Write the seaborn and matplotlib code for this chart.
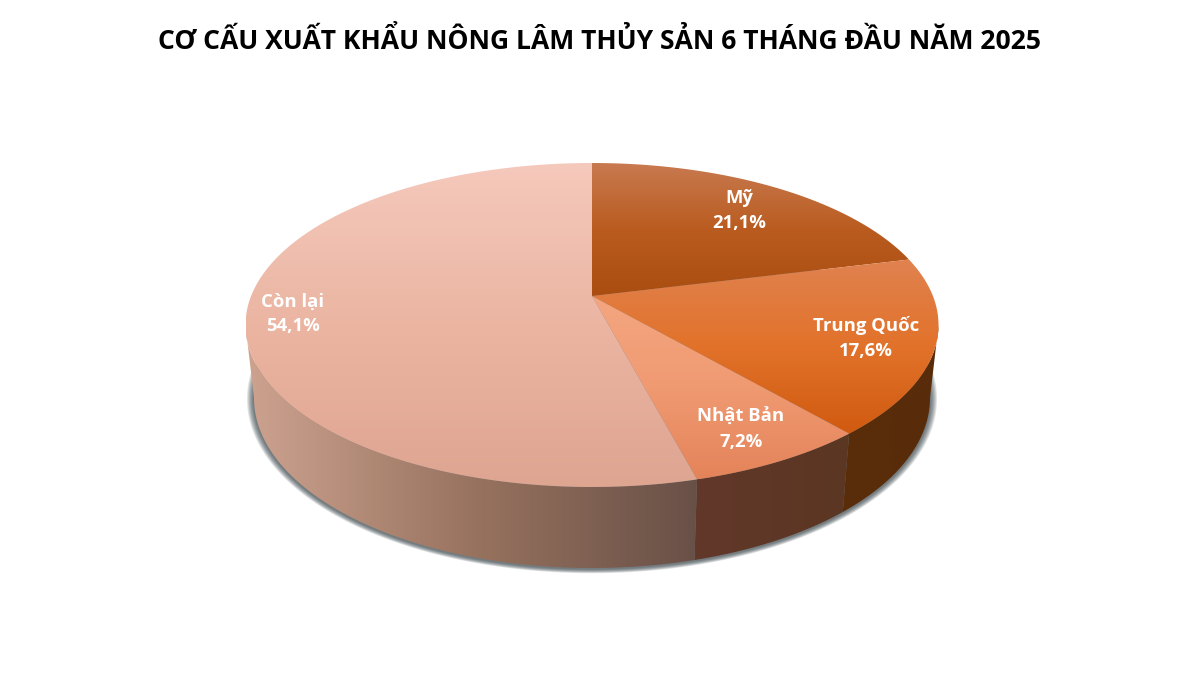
import numpy as np
import matplotlib.pyplot as plt
from matplotlib.patches import Polygon
import seaborn as sns

# du lieu
title = "CƠ CẤU XUẤT KHẨU NÔNG LÂM THỦY SẢN 6 THÁNG ĐẦU NĂM 2025"
markets = ["Mỹ", "Trung Quốc", "Nhật Bản", "Còn lại"]
shares = [21.1, 17.6, 7.2, 54.1]
share_labels = ["21,1%", "17,6%", "7,2%", "54,1%"]

# mau mat tren (tren -> duoi) va mat ben
top_colors = [
    ["#c87a50", "#ba5c20", "#aa4d10"],
    ["#e08250", "#e2722a", "#d05a10"],
    ["#f4a680", "#f09a72", "#e4835a"],
    ["#f5c9bc", "#ebb5a2", "#dea591"],
]
side_colors = [
    ["#5a2d0a", "#5a2d0a"],
    ["#5a2d0a", "#582c0a"],
    ["#62382a", "#5b3622"],
    ["#cda390", "#98735f", "#695047"],
]

# vi tri nhan theo pixel
label_px = [(739, 211), (866, 338), (741, 429), (293, 314)]

# hinh hoc trong pixel
CX, CY, RX, RY = 592, 325, 346.5, 162
WALL_CY, WALL_RX, WALL_RY = 398, 338, 170
TILT = 29 / 162  # tam banh lech len do phoi canh


def project(theta):
    # dua diem tren duong tron don vi sang mat elip co phoi canh
    x, y = np.cos(theta), np.sin(theta)
    d = 1 + TILT * y
    return x * np.sqrt(1 - TILT ** 2) / d, (y + TILT) / d


def to_wall(u, v):
    return u * WALL_RX / RX, (CY - WALL_CY + WALL_RY * v) / RY


def px(x, y):
    return (x - CX) / RX, (CY - y) / RY


def gradient(ax, colors, poly, horizontal=False):
    cmap = sns.blend_palette(colors, as_cmap=True)
    xy = poly.get_xy()
    ramp = np.linspace(0, 1, 256)
    ramp = ramp[None, :] if horizontal else ramp[:, None]
    im = ax.imshow(ramp, cmap=cmap, vmin=0, vmax=1, origin="upper", aspect="auto",
                   interpolation="bilinear", zorder=poly.get_zorder(),
                   extent=(xy[:, 0].min(), xy[:, 0].max(), xy[:, 1].min(), xy[:, 1].max()))
    ax.add_patch(poly)
    poly.set_facecolor("none")
    poly.set_edgecolor("none")
    im.set_clip_path(poly)


sns.set_theme(style="white")
plt.rcParams["font.family"] = ["Open Sans", "DejaVu Sans"]

fig = plt.figure(figsize=(12, 6.75), dpi=100, facecolor="white")
ax = fig.add_axes([0, 0, 1, 1])

# bong do mo phia sau
full = np.linspace(0, 2 * np.pi, 400)
for grow in np.linspace(7, 1, 7):
    su = (WALL_RX + grow) * np.cos(full) / RX
    sv = (CY - WALL_CY - 1 + (WALL_RY + grow * 0.6) * np.sin(full)) / RY
    ax.fill(su, sv, color="#2f3a40", alpha=0.14, lw=0, zorder=1)

edges = 90 - np.cumsum([0] + shares) * 3.6
silhouette_r = -np.degrees(np.arcsin(TILT))
silhouette_l = -180 + np.degrees(np.arcsin(TILT))

# mat ben
for i in range(len(shares)):
    a0, a1 = edges[i], edges[i + 1]
    a0 = min(a0, silhouette_r)
    a1 = max(a1, silhouette_l)
    if a0 <= a1:
        continue
    t = np.radians(np.linspace(a0, a1, 120))
    u, v = project(t)
    wu, wv = to_wall(u, v)
    pts = np.column_stack([np.r_[u, wu[::-1]], np.r_[v, wv[::-1]]])
    gradient(ax, side_colors[i], Polygon(pts, closed=True, zorder=2 + i * 0.1), horizontal=True)

# mat tren
for i in range(len(shares)):
    t = np.radians(np.linspace(edges[i], edges[i + 1], 200))
    u, v = project(t)
    pts = np.column_stack([np.r_[0, u], np.r_[TILT, v]])
    gradient(ax, top_colors[i], Polygon(pts, closed=True, zorder=3 + i * 0.1))

# nhan
for name, pct, (lx, ly) in zip(markets, share_labels, label_px):
    x, y = px(lx, ly)
    ax.text(x, y, f"{name}\n{pct}", color="white", fontsize=13.3, fontweight="bold",
            ha="center", va="center", linespacing=1.5, zorder=5)

x, y = px(600, 41)
ax.text(x, y, title, color="black", fontsize=19.1, fontweight="bold",
        ha="center", va="center", zorder=5)

ax.set_xlim(px(0, 0)[0], px(1200, 0)[0])
ax.set_ylim(px(0, 675)[1], px(0, 0)[1])
ax.axis("off")

fig.savefig("out.png", dpi=100, facecolor="white")
